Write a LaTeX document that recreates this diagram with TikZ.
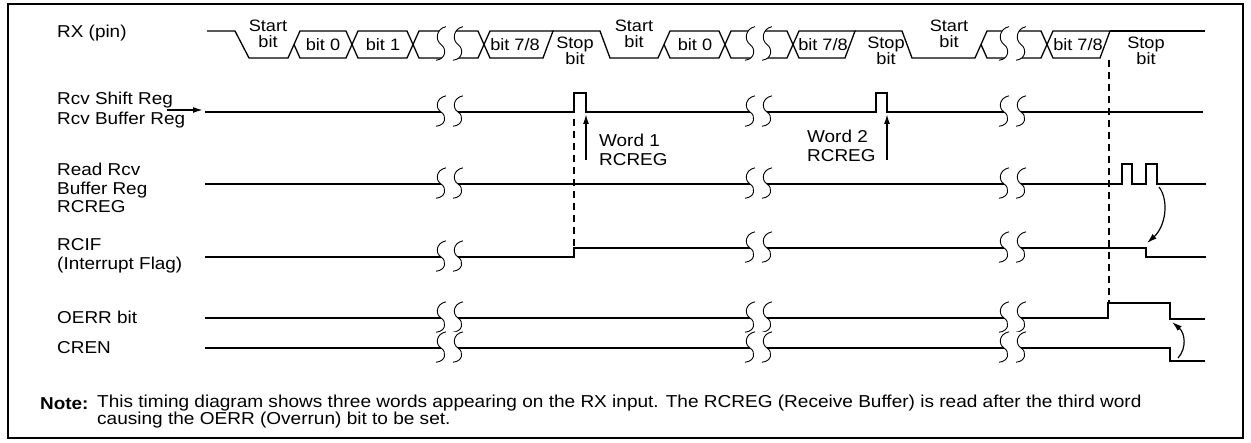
\documentclass[tikz,border=0pt]{standalone}
\usepackage{fontspec}
\setmainfont{Liberation Sans}[FakeStretch=1.1]
\usetikzlibrary{arrows,arrows.meta}
\tikzstyle{sig} = [draw,line width=2pt]
\tikzstyle{bus} = [draw,line width=1.3pt]
\tikzstyle{lbl} = [font=\fontsize{17.2}{18.5}\selectfont,align=left,anchor=west,inner sep=0pt]
\tikzstyle{bitlbl} = [font=\fontsize{16.5}{15.8}\selectfont,align=center,inner sep=0pt]
\tikzstyle{guide} = [draw,line width=2pt,dash pattern=on 7pt off 5pt]
\tikzstyle{edge} = [draw,line width=1.6pt,-{Latex[length=10pt,width=6pt]}]
\tikzstyle{curvarrow} = [draw,line width=1.2pt,-{Latex[length=10pt,width=6pt]}]
\newcommand{\brk}[3]{%
  \begin{scope}[shift={(#1,#2)},yscale=#3]
    \fill[white] (5,-17) .. controls (-5,-15) and (-6,-4) .. (0,0) .. controls (6,4) and (5,14) .. (-5,15) -- (12,15) .. controls (22,14) and (23,4) .. (17,0) .. controls (11,-4) and (12,-15) .. (22,-17) -- cycle;
    \draw[line width=0.9pt] (5,-17) .. controls (-5,-15) and (-6,-4) .. (0,0) .. controls (6,4) and (5,14) .. (-5,15);
    \draw[line width=0.9pt] (22,-17) .. controls (12,-15) and (11,-4) .. (17,0) .. controls (23,4) and (22,14) .. (12,15);
  \end{scope}}

\begin{document}
\begin{tikzpicture}[x=1pt,y=-1pt]
\useasboundingbox (0,0) rectangle (1251,443);
\draw[line width=2.5pt] (8,4) rectangle (1243,438);

\node[lbl] (rx) at (57,33) {RX (pin)};
\node[lbl] (rsr) at (57,110) {Rcv Shift Reg\\[1.5pt]Rcv Buffer Reg};
\node[lbl] (rrb) at (57,188) {Read Rcv\\Buffer Reg\\RCREG};
\node[lbl] (rcif) at (57,256) {RCIF\\(Interrupt Flag)};
\node[lbl] (oerr) at (57,317) {OERR bit};
\node[lbl] (cren) at (57,348) {CREN};
\node[lbl,font=\fontsize{17.2}{18}\selectfont\bfseries] (note) at (40,404) {Note:};
\node[lbl,font=\fontsize{17.3}{17}\selectfont] (notetxt) at (97,412) {This timing diagram shows three words appearing on the RX input. The RCREG (Receive Buffer) is read after the third word\\causing the OERR (Overrun) bit to be set.};

\coordinate (rin0) at (167,110);
\coordinate (rin1) at (203,110);
\path[edge] (rin0) -- (rin1);

\path[bus] (207,31) -- (235,31) -- (249,58) -- (288,58) -- (294,44.5);
\foreach \a/\b in {553/664, 855/981}
  \path[bus] (\a,31) -- (\a+47,31) -- (\a+57,58) -- (\b-6,58) -- (\b,44.5);
\path[bus] (1110,31) -- (1205,31);
\foreach \a/\b in {294/352, 352/413, 413/484, 664/725, 725/793, 981/1047}
  \path[bus] (\a,44.5) -- (\a+6,31) -- (\b-6,31) -- (\b,44.5) -- (\b-6,58) -- (\a+6,58) -- cycle;
\foreach \a/\b in {484/553, 793/855, 1047/1110}
  \path[bus] (\a,44.5) -- (\a+6,31) -- (\b,31) -- (\b-10,58) -- (\a+6,58) -- cycle;

\foreach \name/\x/\y/\txt in {st1/268/34/Start\\bit, st2/634/34/Start\\bit, st3/949/34/Start\\bit,
    sp1/575/51/Stop\\bit, sp2/886/51/Stop\\bit, sp3/1146/51/Stop\\bit,
    b01/323/45/bit 0, b11/383/45/bit 1, b71/515/45/{bit 7/8},
    b02/695/45/bit 0, b72/823/45/{bit 7/8}, b73/1078/45/{bit 7/8}}
  \node[bitlbl] (\name) at (\x,\y) {\txt};

\path[sig] (205,112) -- (574,112) -- (574,93) -- (586,93) -- (586,112) -- (876,112) -- (876,93) -- (887,93) -- (887,112) -- (1203,112);
\path[sig] (205,184) -- (1122,184) -- (1122,164) -- (1132,164) -- (1132,184) -- (1146,184) -- (1146,164) -- (1157,164) -- (1157,184) -- (1206,184);
\path[sig] (205,257) -- (574,257) -- (574,248) -- (1146,248) -- (1146,257) -- (1206,257);
\path[sig] (205,318) -- (1108,318) -- (1108,303) -- (1170,303) -- (1170,319) -- (1205,319);
\path[sig] (205,348) -- (1170,348) -- (1170,361) -- (1205,361);

\path[guide] (574,119) -- (574,248);
\path[guide] (1109,60) -- (1109,303);

\foreach \x in {441,750,1004}
  \brk{\x}{44.5}{1.05};
\foreach \x/\y in {441/112, 441/184, 441/257, 441/318, 441/348,
    750/112, 750/184, 750/248, 750/318, 750/348,
    1004/112, 1004/184, 1004/248, 1004/318, 1004/348}
  \brk{\x}{\y}{0.95};

\coordinate (w1a) at (586,160);
\coordinate (w1b) at (586,114);
\coordinate (w2a) at (887,160);
\coordinate (w2b) at (887,114);
\path[edge] (w1a) -- (w1b);
\path[edge] (w2a) -- (w2b);
\node[lbl] (w1) at (599,150) {Word 1\\RCREG};
\node[lbl] (w2) at (807,146) {Word 2\\RCREG};

\coordinate (rd) at (1159,187);
\coordinate (rf) at (1147,243);
\coordinate (cr) at (1178,358);
\coordinate (oe) at (1172,322);
\path[curvarrow] (rd) .. controls (1169,200) and (1166,226) .. (rf);
\path[curvarrow] (cr) .. controls (1187,348) and (1185,333) .. (oe);
\end{tikzpicture}
\end{document}
